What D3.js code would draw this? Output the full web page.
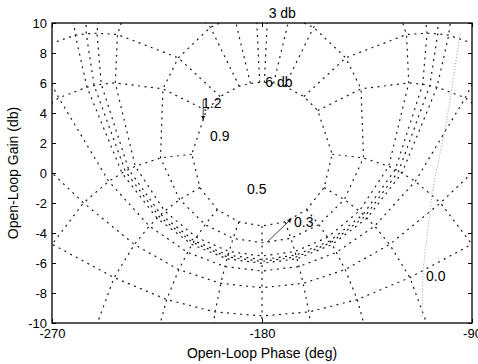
<!DOCTYPE html>
<html>
<head>
<meta charset="utf-8">
<script src="https://cdn.jsdelivr.net/npm/d3@7/dist/d3.min.js"></script>
<style>
  body { margin: 0; background: #fff; }
  text { font-family: "Liberation Sans", Arial, sans-serif; fill: #000; }
  .grid { fill: none; stroke: #1a1a1a; stroke-width: 1.2; stroke-dasharray: 2,4.5; }
  .faint { fill: none; stroke: #9a9a9a; stroke-width: 1; stroke-dasharray: 1,2; }
  .axis path { display: none; }
  .axis line { stroke: #000; }
</style>
</head>
<body>
<div class="chart"></div>
<script>
var svgWidth = 478;
var svgHeight = 364;

var margin = { top: 23, right: 6, bottom: 41, left: 52 };
var width = svgWidth - margin.left - margin.right;
var height = svgHeight - margin.top - margin.bottom;

// closed-loop gain contours (db) and closed-loop phase contours (deg)
var gainDb = [6, 3, 1, 0.5, 0.25, 0, -1, -3, -6, -12, -20, -40];
var phaseDeg = [1, 5, 10, 20, 30, 60, 90, 120, 150, 180];
var labelledGains = [6, 3];

// axis ticks
var xTicks = [-270, -180, -90];
var yTicks = [-10, -8, -6, -4, -2, 0, 2, 4, 6, 8, 10];

// faint curve on the right
var faintPhase = [-95.1, -99.4, -101.6, -104.6, -107.1, -109.3, -111.0, -111.4];
var faintGain = [9.31, 4.85, 2.85, 0.65, -1.35, -4.29, -6.49, -9.62];

// text annotations (left edge, middle)
var noteText = ["1.2", "0.9", "0.5", "0.3", "0.0"];
var notePhase = [-205.7, -202.3, -186.4, -166.3, -109.7];
var noteGain = [4.65, 2.45, -1.09, -3.29, -6.89];

// arrows: one into the 0.3 note, one down from the 1.2 note
var arrows = [
  { phase: [-177.9, -167.4], gain: [-4.62, -3.05] },
  { phase: [-205.2, -205.2], gain: [4.9, 3.55] }
];

// open-loop point for closed-loop gain g (db) and phase -p (deg)
function openLoop(g, p) {
  var m = Math.pow(10, g / 20);
  var r = p * Math.PI / 180;
  var re = 1 - m * Math.cos(r);
  var im = m * Math.sin(r);
  var mag = m / Math.sqrt(re * re + im * im);
  var ph = -p - Math.atan2(im, re) * 180 / Math.PI;
  return [ph, 20 * Math.log10(mag)];
}
function mirror(pt) {
  return [-360 - pt[0], pt[1]];
}

var svg = d3.select(".chart")
  .append("svg")
  .attr("width", svgWidth)
  .attr("height", svgHeight);

var chartGroup = svg.append("g")
  .attr("transform", `translate(${margin.left}, ${margin.top})`);

var x = d3.scaleLinear().domain([-270, -90]).range([0, width]);
var y = d3.scaleLinear().domain([-10, 10]).range([height, 0]);

chartGroup.append("clipPath")
  .attr("id", "plotclip")
  .append("rect")
  .attr("width", width)
  .attr("height", height);

var line = d3.line()
  .x(d => x(d[0]))
  .y(d => y(d[1]));

var gridGroup = chartGroup.append("g").attr("clip-path", "url(#plotclip)");

// gain contours: left half mirrored, then right half back up
gainDb.forEach(function(g) {
  var right = phaseDeg.map(p => openLoop(g, p));
  var left = right.map(mirror);
  var pts = left.concat(right.slice().reverse());
  gridGroup.append("path").attr("class", "grid").attr("d", line(pts));
});

// phase contours
phaseDeg.forEach(function(p) {
  var right = gainDb.map(g => openLoop(g, p));
  gridGroup.append("path").attr("class", "grid").attr("d", line(right));
  if (p !== 180) {
    gridGroup.append("path").attr("class", "grid").attr("d", line(right.map(mirror)));
  }
});

// faint curve
gridGroup.append("path")
  .attr("class", "faint")
  .attr("d", line(faintPhase.map((d, i) => [d, faintGain[i]])));

// arrows
svg.append("defs").append("marker")
  .attr("id", "head")
  .attr("viewBox", "0 0 10 10")
  .attr("refX", 9).attr("refY", 5)
  .attr("markerWidth", 5).attr("markerHeight", 5)
  .attr("orient", "auto")
  .append("path").attr("d", "M0,0L10,5L0,10z").attr("fill", "#222");

arrows.forEach(function(a) {
  chartGroup.append("line")
    .attr("x1", x(a.phase[0])).attr("y1", y(a.gain[0]))
    .attr("x2", x(a.phase[1])).attr("y2", y(a.gain[1]))
    .attr("stroke", "#333").attr("stroke-width", 0.9)
    .attr("marker-end", "url(#head)");
});

// frame
chartGroup.append("rect")
  .attr("width", width)
  .attr("height", height)
  .attr("fill", "none")
  .attr("stroke", "#000")
  .attr("stroke-width", 1.3);

// axes with inward ticks
chartGroup.append("g")
  .attr("class", "axis")
  .call(d3.axisLeft(y).tickValues(yTicks).tickSizeInner(-4).tickSizeOuter(0)
    .tickPadding(5).tickFormat(d => String(d)))
  .selectAll("text").style("font-size", "13px");

chartGroup.append("g")
  .attr("class", "axis")
  .attr("transform", `translate(${width}, 0)`)
  .call(d3.axisRight(y).tickValues(yTicks).tickSizeInner(-4).tickSizeOuter(0).tickFormat(""));

chartGroup.append("g")
  .attr("class", "axis")
  .attr("transform", `translate(0, ${height})`)
  .call(d3.axisBottom(x).tickValues(xTicks).tickSizeInner(-4).tickSizeOuter(0)
    .tickPadding(6).tickFormat(d => String(d)))
  .selectAll("text").style("font-size", "13px");

chartGroup.append("g")
  .attr("class", "axis")
  .call(d3.axisTop(x).tickValues(xTicks).tickSizeInner(-4).tickSizeOuter(0).tickFormat(""));

// gain contour labels at the 1 deg point
labelledGains.forEach(function(g) {
  var pt = openLoop(g, 1);
  chartGroup.append("text")
    .attr("x", x(pt[0]) + 1)
    .attr("y", y(pt[1]))
    .attr("dy", "0.35em")
    .style("font-size", "14px")
    .text(g + " db");
});

// notes
noteText.forEach(function(t, i) {
  chartGroup.append("text")
    .attr("x", x(notePhase[i]))
    .attr("y", y(noteGain[i]))
    .attr("dy", "0.35em")
    .style("font-size", "14px")
    .text(t);
});

// axis titles
chartGroup.append("text")
  .attr("x", width / 2)
  .attr("y", height + 35)
  .attr("text-anchor", "middle")
  .style("font-size", "14px")
  .text("Open-Loop Phase (deg)");

chartGroup.append("text")
  .attr("transform", "rotate(-90)")
  .attr("x", -150)
  .attr("y", -34)
  .attr("text-anchor", "middle")
  .style("font-size", "14px")
  .text("Open-Loop Gain (db)");
</script>
</body>
</html>
